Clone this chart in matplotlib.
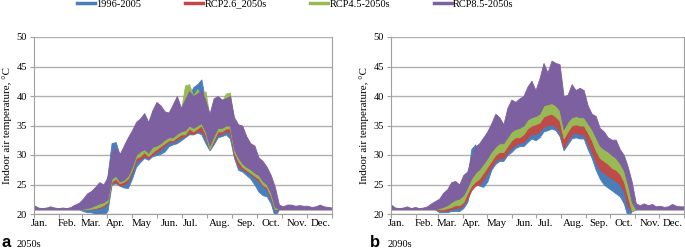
import numpy as np
import matplotlib.pyplot as plt
from matplotlib.lines import Line2D

plt.rcParams['font.family'] = 'Liberation Serif'

# day of year, every 5 days
days = np.arange(0, 366, 5)

series_names = ['1996-2005', 'RCP2.6_2050s', 'RCP4.5-2050s', 'RCP8.5-2050s']
series_colors = ['#4a7ebb', '#be4b48', '#98b954', '#7d60a0']

month_edges = [0, 31, 59, 90, 120, 151, 181, 212, 243, 273, 304, 334, 365]
month_labels = ['Jan.', 'Feb.', 'Mar.', 'Apr.', 'May', 'Jun.', 'Jul.',
                'Aug.', 'Sep.', 'Oct.', 'Nov.', 'Dec.']
label_days = [7, 41, 70, 100, 132, 166, 192, 228, 259, 290, 322, 351]

# ---- panel a: 2050s (upper / lower envelope of each series) ----
a_blue_hi = [21.0] * 12 + [
    21.5, 22.5, 23.0, 24.0, 24.5, 24.0, 26.5, 32.0, 32.2, 30.0,
    30.5, 32.0, 33.0, 34.0, 34.5, 35.0, 34.0, 35.0, 36.0, 36.0,
    36.0, 36.5, 37.0, 38.0, 38.0, 39.0, 40.0, 41.5, 42.0, 42.8,
    39.0, 36.0, 38.0, 38.5, 38.5, 39.0, 39.0, 34.5, 32.5, 31.5,
    30.0, 29.5, 29.0, 28.0, 27.0, 26.0, 24.5, 22.0, 21.0] + [21.0] * 13
a_blue_lo = [20.8] * 12 + [
    20.5, 20.3, 20.3, 20.0, 20.0, 19.8, 20.5, 25.0, 25.2, 24.8,
    24.5, 24.4, 26.0, 28.0, 28.8, 29.5, 29.2, 29.8, 30.0, 30.2,
    30.6, 31.5, 31.8, 32.0, 32.5, 33.0, 33.5, 33.5, 33.8, 33.5,
    32.0, 30.8, 31.8, 33.0, 33.2, 33.5, 32.8, 29.5, 27.5, 27.2,
    26.6, 26.0, 25.0, 23.8, 23.2, 23.0, 21.8, 19.5, 20.8] + [20.8] * 13
a_red_hi = [21.0] * 12 + [
    21.2, 22.0, 22.5, 23.0, 24.0, 24.0, 25.0, 28.5, 29.0, 28.5,
    29.5, 31.0, 32.0, 33.0, 33.5, 34.0, 33.5, 34.5, 35.0, 35.0,
    35.0, 35.5, 36.5, 37.0, 37.0, 38.0, 38.5, 38.0, 38.5, 39.0,
    37.5, 35.5, 37.0, 37.5, 37.5, 38.0, 38.0, 34.0, 32.0, 31.0,
    30.0, 29.5, 29.0, 28.0, 27.5, 26.5, 25.0, 23.0, 21.0] + [21.0] * 13
a_red_lo = [20.8] * 12 + [
    20.8, 20.8, 20.8, 20.9, 21.0, 21.2, 21.8, 25.2, 25.4, 24.8,
    25.0, 25.5, 27.0, 29.0, 29.2, 29.8, 29.5, 30.0, 30.5, 31.0,
    31.6, 32.2, 32.2, 32.6, 33.0, 33.2, 33.8, 33.5, 34.0, 34.0,
    33.0, 31.0, 32.2, 33.4, 33.6, 34.0, 33.8, 30.0, 28.2, 27.6,
    27.2, 26.8, 26.2, 25.6, 24.8, 24.2, 22.6, 20.6, 20.8] + [20.8] * 13
a_green_hi = [21.0] * 12 + [
    21.5, 22.5, 23.0, 23.5, 24.5, 24.5, 25.5, 29.5, 30.0, 29.5,
    30.5, 32.0, 33.0, 34.5, 35.0, 35.0, 34.5, 35.5, 36.5, 36.0,
    36.0, 36.5, 37.5, 38.0, 37.5, 41.8, 42.0, 40.0, 41.2, 40.0,
    40.8, 36.5, 38.5, 39.0, 39.0, 40.4, 40.6, 35.5, 33.0, 32.0,
    31.0, 30.0, 29.5, 28.5, 28.0, 27.0, 25.5, 23.5, 21.0] + [21.0] * 13
a_green_lo = [20.8] * 12 + [
    20.8, 20.8, 20.9, 21.0, 21.2, 21.5, 22.0, 25.5, 26.0, 25.2,
    25.5, 26.0, 27.5, 29.5, 29.8, 30.5, 29.8, 30.5, 31.0, 31.5,
    32.0, 32.5, 32.5, 33.0, 33.5, 33.5, 34.5, 34.0, 34.5, 35.0,
    33.5, 31.0, 32.5, 34.0, 34.0, 34.5, 34.5, 30.5, 29.0, 28.0,
    27.5, 27.0, 26.5, 26.0, 25.0, 24.5, 23.0, 20.8, 20.8] + [20.8] * 13
a_purple_hi = [
    21.5, 21.1, 21.0, 21.1, 21.3, 21.1, 21.0, 21.1, 21.0, 21.2, 21.6, 21.9,
    22.6, 23.5, 23.9, 24.6, 25.4, 25.0, 26.2, 30.5, 31.2, 30.2,
    31.6, 33.0, 34.2, 35.6, 36.2, 37.1, 35.6, 37.6, 39.0, 38.4,
    37.4, 37.2, 38.6, 40.0, 38.0, 39.4, 40.8, 40.0, 40.4, 41.0,
    39.2, 37.0, 39.6, 40.0, 39.4, 39.6, 40.0, 36.4, 35.2, 35.0,
    33.2, 32.0, 31.6, 29.6, 29.0, 28.0, 26.6, 24.6, 21.6,
    21.3, 21.6, 21.6, 21.4, 21.5, 21.4, 21.4, 21.2, 21.3, 21.6, 21.3, 21.2, 21.1]
a_purple_lo = [20.8] * 12 + [
    20.9, 21.0, 21.2, 21.5, 21.8, 22.0, 22.5, 26.0, 26.5, 25.5,
    25.8, 26.5, 28.0, 30.0, 30.6, 31.0, 30.4, 31.4, 31.6, 32.0,
    32.6, 33.0, 33.0, 33.6, 34.0, 34.2, 35.0, 34.6, 35.0, 35.4,
    34.0, 31.6, 33.2, 34.6, 34.6, 35.0, 35.0, 31.0, 29.6, 28.6,
    28.0, 27.6, 27.0, 26.6, 25.6, 25.0, 23.6, 21.2, 20.8] + [20.8] * 13

# ---- panel b: 2090s ----
b_blue_hi = [21.0] * 12 + [
    21.0, 21.0, 21.2, 21.5, 21.8, 21.8, 22.5, 26.0, 31.0, 31.8,
    30.0, 26.5, 28.0, 29.0, 30.0, 30.5, 30.5, 31.5, 32.2, 32.8,
    33.0, 33.2, 34.0, 34.5, 34.6, 35.0, 35.8, 36.0, 36.2, 35.8,
    35.0, 32.2, 33.5, 34.5, 34.8, 34.5, 34.5, 33.0, 31.5, 29.8,
    28.5, 28.0, 27.5, 27.0, 26.6, 26.0, 24.8, 22.2, 21.0] + [21.0] * 13
b_blue_lo = [20.8] * 12 + [
    20.3, 20.3, 20.3, 20.5, 20.5, 20.5, 21.0, 22.0, 25.0, 25.5,
    24.8, 24.6, 25.5, 27.5, 28.5, 29.0, 29.0, 30.0, 30.5, 31.2,
    31.5, 31.5, 32.2, 32.8, 32.5, 33.0, 34.0, 34.2, 34.5, 34.2,
    33.2, 30.8, 31.8, 32.8, 33.0, 32.8, 32.8, 31.0, 29.5, 27.5,
    26.0, 25.0, 24.5, 24.0, 23.5, 23.0, 21.8, 19.5, 20.5] + [20.8] * 13
b_red_hi = [21.0] * 12 + [
    21.0, 21.2, 21.5, 21.8, 22.0, 22.0, 22.5, 24.5, 25.8, 26.5,
    27.0, 28.0, 29.0, 30.0, 31.0, 31.5, 31.5, 32.5, 33.5, 34.0,
    34.0, 34.5, 35.5, 36.0, 36.2, 36.5, 37.5, 37.8, 38.0, 37.5,
    36.8, 33.8, 35.0, 36.0, 36.2, 36.0, 36.0, 34.8, 33.5, 31.8,
    30.5, 30.0, 29.5, 28.8, 28.5, 27.8, 26.5, 24.0, 21.0] + [21.0] * 13
b_red_lo = [20.8] * 12 + [
    20.5, 20.5, 20.6, 20.8, 21.0, 21.0, 21.5, 22.5, 24.0, 24.8,
    25.0, 25.8, 27.0, 28.0, 29.0, 29.5, 29.5, 30.5, 31.2, 31.8,
    32.0, 32.2, 33.0, 33.5, 33.6, 34.0, 34.8, 35.0, 35.2, 34.8,
    34.0, 31.2, 32.5, 33.5, 33.8, 33.5, 33.5, 32.0, 30.5, 28.8,
    27.5, 27.0, 26.5, 26.0, 25.6, 25.0, 23.8, 21.2, 20.5] + [20.8] * 13
b_green_hi = [21.0] * 12 + [
    21.5, 22.0, 22.3, 22.8, 23.0, 23.2, 24.0, 25.5, 27.0, 28.0,
    28.5, 29.5, 30.5, 31.5, 32.5, 33.0, 33.0, 34.0, 35.0, 35.5,
    35.5, 36.0, 37.0, 37.5, 37.8, 38.0, 39.5, 39.5, 40.0, 39.5,
    38.5, 35.5, 36.5, 37.5, 37.5, 37.5, 37.5, 36.5, 35.5, 34.0,
    32.5, 32.0, 31.5, 31.0, 30.5, 29.5, 28.5, 26.0, 22.5] + [21.0] * 13
b_green_lo = [20.8] * 12 + [
    20.8, 20.8, 21.0, 21.2, 21.5, 21.5, 22.0, 23.5, 24.8, 25.5,
    26.0, 27.0, 28.0, 29.0, 30.0, 30.5, 30.5, 31.5, 32.5, 33.0,
    33.0, 33.5, 34.5, 35.0, 35.2, 35.5, 36.5, 36.8, 37.0, 36.5,
    35.8, 32.8, 34.0, 35.0, 35.2, 35.0, 35.0, 33.8, 32.5, 30.8,
    29.5, 29.0, 28.5, 27.8, 27.5, 26.8, 25.5, 23.0, 20.5] + [20.8] * 13
b_purple_hi = [
    21.6, 21.1, 21.0, 21.1, 21.3, 21.0, 21.2, 21.0, 21.1, 21.3, 21.8, 22.2,
    22.6, 23.6, 24.2, 25.4, 25.6, 25.0, 26.6, 27.2, 29.6, 31.4,
    32.0, 33.0, 34.0, 35.4, 37.0, 36.4, 35.2, 38.0, 39.4, 39.0,
    39.6, 40.0, 41.6, 42.6, 41.0, 43.0, 45.6, 44.0, 46.0, 45.6,
    45.4, 40.0, 40.2, 42.0, 41.0, 41.4, 41.0, 38.4, 37.0, 36.6,
    34.6, 34.0, 33.0, 32.6, 32.6, 31.0, 30.0, 28.0, 25.4,
    21.8, 21.5, 21.8, 21.5, 21.7, 21.3, 21.4, 21.2, 21.3, 21.7, 21.4, 21.3, 21.3]
b_purple_lo = [20.8] * 12 + [
    21.0, 21.2, 21.5, 22.0, 22.4, 22.6, 23.2, 24.5, 26.0, 27.0,
    27.6, 28.5, 29.5, 30.6, 31.4, 32.0, 32.0, 33.0, 34.0, 34.4,
    34.6, 35.0, 36.0, 36.4, 36.6, 37.0, 38.4, 38.6, 38.8, 38.4,
    37.6, 34.4, 35.6, 36.4, 36.6, 36.4, 36.4, 35.4, 34.4, 33.0,
    31.6, 31.0, 30.6, 30.0, 29.5, 28.6, 27.4, 25.0, 22.0] + [20.8] * 13

panel_a = [(a_blue_hi, a_blue_lo), (a_red_hi, a_red_lo),
           (a_green_hi, a_green_lo), (a_purple_hi, a_purple_lo)]
panel_b = [(b_blue_hi, b_blue_lo), (b_red_hi, b_red_lo),
           (b_green_hi, b_green_lo), (b_purple_hi, b_purple_lo)]

fig = plt.figure(figsize=(6.85, 2.52), dpi=100)
ax_a = fig.add_axes([34 / 685, 1 - 214 / 252, 298 / 685, 177 / 252])
ax_b = fig.add_axes([391 / 685, 1 - 214 / 252, 293 / 685, 177 / 252])

grey = '#a0a0a0'
for ax, bands in [(ax_a, panel_a), (ax_b, panel_b)]:
    for (hi, lo), col in zip(bands, series_colors):
        ax.fill_between(days, lo, hi, color=col, lw=0.6, edgecolor=col)
    ax.set_xlim(0, 365)
    ax.set_ylim(20, 50)
    ax.set_yticks(range(20, 51, 5))
    ax.yaxis.grid(True, color='#b0b0b0', lw=1.0)
    ax.set_axisbelow(True)
    ax.spines['top'].set_visible(False)
    for s in ['left', 'bottom', 'right']:
        ax.spines[s].set_color(grey)
        ax.spines[s].set_linewidth(0.8)
    ax.set_xticks(month_edges)
    ax.set_xticklabels([])
    ax.set_xticks(label_days, minor=True)
    ax.set_xticklabels(month_labels, minor=True, fontsize=7.8)
    ax.tick_params(axis='x', which='major', length=3, color=grey)
    ax.tick_params(axis='x', which='minor', length=0, pad=3.5)
    ax.tick_params(axis='y', length=3, color=grey, labelsize=7.5, pad=2)
    ax.set_ylabel('Indoor air temperature, °C', fontsize=8, labelpad=3)

# legend across the top
handles = [Line2D([0], [0], color=c, lw=2.5) for c in series_colors]
fig.legend(handles, series_names, ncol=4, loc='center left',
           bbox_to_anchor=(77 / 685, 0.984), frameon=False, fontsize=7.5,
           handlelength=1.7, handletextpad=0.15, columnspacing=4.2,
           borderpad=0, borderaxespad=0)

# panel captions
fig.text(2 / 685, 0.02, 'a', fontsize=12, fontweight='bold', family='Liberation Sans')
fig.text(17 / 685, 0.02, '2050s', fontsize=7.5)
fig.text(370 / 685, 0.02, 'b', fontsize=12, fontweight='bold', family='Liberation Sans')
fig.text(388 / 685, 0.02, '2090s', fontsize=7.5)

plt.savefig('out.png', dpi=100)
